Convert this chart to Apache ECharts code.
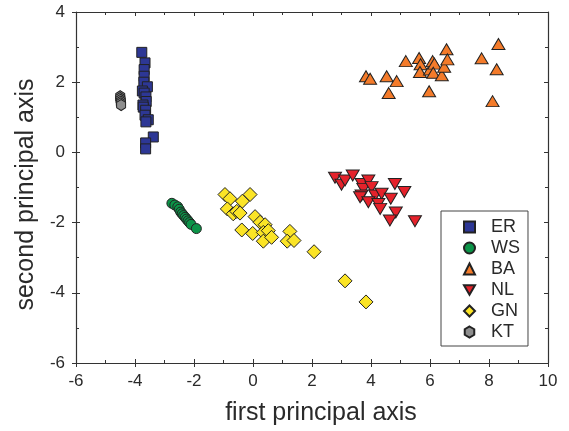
<!DOCTYPE html>
<html><head><meta charset="utf-8">
<script src="https://cdn.jsdelivr.net/npm/echarts@6/dist/echarts.min.js"></script>
<style>html,body{margin:0;padding:0;background:#fff}#c{width:569px;height:431px}</style>
</head><body><div id="c"></div>
<script>
const xTicks = [-6, -4, -2, 0, 2, 4, 6, 8, 10];
const yTicks = [-6, -4, -2, 0, 2, 4];
const xTitle = 'first principal axis';
const yTitle = 'second principal axis';
const seriesNames = ['ER', 'WS', 'BA', 'NL', 'GN', 'KT'];

const ER = [[-3.77,2.85],[-3.66,2.55],[-3.69,2.36],[-3.69,2.17],[-3.7,2.0],[-3.58,1.87],[-3.75,1.75],[-3.69,1.69],
  [-3.63,1.58],[-3.62,1.45],[-3.73,1.35],[-3.72,1.29],[-3.64,1.2],[-3.66,1.06],[-3.55,0.93],[-3.63,0.87],
  [-3.38,0.44],[-3.64,0.27],[-3.64,0.1]];
const WS = [[-2.75,-1.45],[-2.65,-1.5],[-2.55,-1.55],[-2.5,-1.62],[-2.45,-1.7],[-2.4,-1.75],[-2.35,-1.8],
  [-2.3,-1.85],[-2.25,-1.9],[-2.2,-1.95],[-2.15,-2.0],[-2.1,-2.05],[-1.92,-2.17]];
const BA = [[3.83,2.17],[3.97,2.1],[4.53,2.17],[4.87,2.03],[4.6,1.69],[5.18,2.6],[5.63,2.69],[5.68,2.51],
  [5.66,2.29],[6.0,2.36],[6.09,2.6],[6.15,2.53],[6.11,2.27],[6.4,2.2],[6.48,2.44],[6.56,2.94],[6.59,2.65],
  [5.97,1.74],[7.75,2.68],[8.32,3.09],[8.26,2.37],[8.12,1.46]];
const NL = [[2.78,-0.72],[3.0,-0.92],[3.12,-0.8],[3.38,-0.66],[3.68,-0.9],[3.91,-0.8],[3.74,-1.04],[4.02,-0.99],
  [3.68,-1.23],[3.63,-1.28],[4.14,-1.23],[4.36,-1.18],[3.91,-1.42],[4.25,-1.47],[4.31,-1.61],[4.67,-1.32],
  [4.81,-0.9],[5.13,-1.13],[4.84,-1.71],[4.64,-1.94],[5.49,-1.96]];
const GN = [[-0.95,-1.2],[-0.78,-1.32],[-0.1,-1.2],[-0.36,-1.39],[-0.87,-1.61],[-0.67,-1.75],[-0.55,-1.68],
  [-0.44,-1.73],[0.07,-1.83],[0.24,-1.99],[0.41,-2.06],[-0.38,-2.21],[-0.01,-2.31],[0.35,-2.28],[0.52,-2.23],
  [0.35,-2.53],[0.63,-2.42],[1.25,-2.25],[1.16,-2.53],[1.39,-2.51],[2.07,-2.83],[3.12,-3.66],[3.83,-4.26]];
const KT = [[-4.5,1.6],[-4.5,1.55],[-4.49,1.5],[-4.48,1.45],[-4.48,1.4],[-4.47,1.35]];

const hexPath = 'path://M0,-1 L0.866,-0.5 L0.866,0.5 L0,1 L-0.866,0.5 L-0.866,-0.5 Z';
const downTri = 'path://M-1,-0.85 L1,-0.85 L0,0.85 Z';
const styles = {
  ER: {symbol: 'rect', size: 10, color: '#2D3795'},
  WS: {symbol: 'circle', size: 10, color: '#0B9448'},
  BA: {symbol: 'triangle', size: [13, 11], color: '#F47B2A'},
  NL: {symbol: downTri, size: [13, 11], color: '#E5222B'},
  GN: {symbol: 'diamond', size: 14, color: '#FBE426'},
  KT: {symbol: hexPath, size: [9, 11], color: '#8E8E8E'}
};
const dataMap = {ER, WS, BA, NL, GN, KT};

const axisCol = '#333';
const fam = 'Liberation Sans, Arial, sans-serif';
const tickFont = {fontFamily: fam, fontSize: 17, color: '#2a2a2a'};
const xmin = xTicks[0], xmax = xTicks[xTicks.length-1];
const ymin = yTicks[0], ymax = yTicks[yTicks.length-1];

function mkAxis(pos, opts) {
  return Object.assign({
    type: 'value', position: pos, splitLine: {show: false},
    axisLine: {onZero: false, lineStyle: {color: axisCol, width: 1.2}},
    axisTick: {inside: true, length: 4, lineStyle: {color: axisCol}},
    minorTick: {show: true, splitNumber: 2, length: 3, lineStyle: {color: axisCol}},
    axisLabel: {show: false}
  }, opts);
}

const chart = echarts.init(document.getElementById('c'));
chart.setOption({
  animation: false,
  grid: {left: 76, right: 21, top: 12, bottom: 68},
  xAxis: [
    mkAxis('bottom', {min: xmin, max: xmax, interval: 2,
      axisLabel: Object.assign({show: true, margin: 10}, tickFont),
      name: xTitle, nameLocation: 'middle', nameGap: 38,
      nameTextStyle: {fontFamily: fam, fontSize: 25, color: '#2a2a2a', padding: [0, 0, 0, 18]}}),
    mkAxis('bottom', {min: xmin, max: xmax, interval: 2,
      axisLine: {show: false, onZero: false}, minorTick: {show: false},
      axisTick: {inside: false, length: 4, lineStyle: {color: axisCol}}}),
    mkAxis('top', {min: xmin, max: xmax, interval: 2})
  ],
  yAxis: [
    mkAxis('left', {min: ymin, max: ymax, interval: 2,
      axisLabel: Object.assign({show: true, margin: 11}, tickFont),
      name: yTitle, nameLocation: 'middle', nameGap: 36,
      nameTextStyle: {fontFamily: fam, fontSize: 25, color: '#2a2a2a', padding: [0, 14, 0, 0]}}),
    mkAxis('left', {min: ymin, max: ymax, interval: 2,
      axisLine: {show: false, onZero: false}, minorTick: {show: false},
      axisTick: {inside: false, length: 4, lineStyle: {color: axisCol}}}),
    mkAxis('right', {min: ymin, max: ymax, interval: 2})
  ],
  legend: {
    orient: 'vertical', left: 441, top: 211, data: seriesNames,
    borderColor: '#444', borderWidth: 1, borderRadius: 0,
    padding: [7, 8, 5, 22], itemWidth: 11, itemHeight: 11, itemGap: 3,
    textStyle: {fontFamily: fam, fontSize: 18, color: '#2a2a2a', padding: [0, 0, 0, 11]}
  },
  series: seriesNames.map(n => ({
    name: n, type: 'scatter', xAxisIndex: 0, yAxisIndex: 0,
    data: dataMap[n], symbol: styles[n].symbol, symbolSize: styles[n].size,
    itemStyle: {color: styles[n].color, borderColor: '#222', borderWidth: 1, opacity: 1}
  }))
});
</script></body></html>
